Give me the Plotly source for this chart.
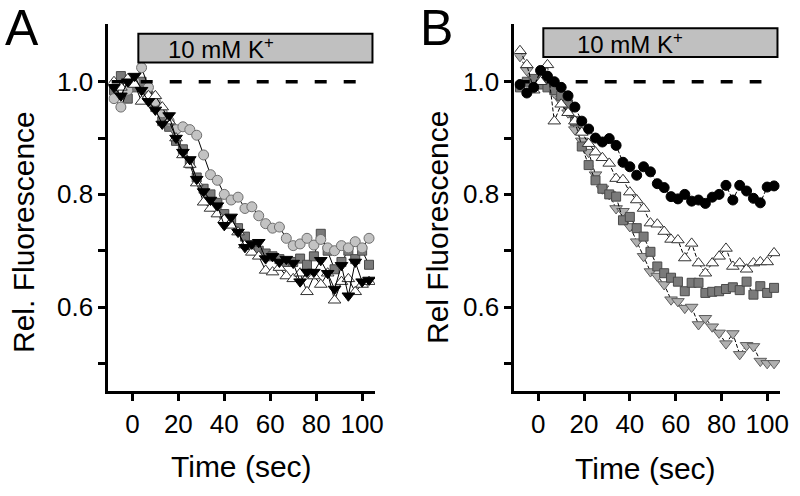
import plotly.graph_objects as go

# time points (sec), shared by all traces
time_s = [-8, -5, -2, 1, 4, 7, 10, 13, 16, 19, 22, 25, 28, 31, 34, 37, 40, 43, 46,
          49, 52, 55, 58, 61, 64, 67, 70, 73, 76, 79, 82, 85, 88, 91, 94, 97, 100, 103]

# panel A
a_squares = [0.985, 1.01, 0.97, 0.99, 1.0, 0.975, 0.955, 0.93, 0.92, 0.895, 0.88, 0.855, 0.83,
             0.81, 0.80, 0.785, 0.765, 0.755, 0.74, 0.725, 0.71, 0.70, 0.695, 0.69, 0.685, 0.68,
             0.68, 0.686, 0.675, 0.69, 0.73, 0.70, 0.667, 0.68, 0.70, 0.685, 0.70, 0.675]
a_circles = [0.97, 0.955, 0.985, 1.0, 1.025, 0.99, 0.965, 0.945, 0.93, 0.915, 0.92, 0.915, 0.905,
             0.87, 0.835, 0.825, 0.80, 0.79, 0.795, 0.775, 0.778, 0.762, 0.748, 0.74, 0.742, 0.722,
             0.709, 0.712, 0.722, 0.71, 0.72, 0.705, 0.70, 0.709, 0.705, 0.716, 0.705, 0.722]
a_open_up = [1.0, 0.99, 1.005, 0.995, 0.965, 0.975, 0.975, 0.955, 0.93, 0.90, 0.87, 0.853, 0.82,
             0.786, 0.775, 0.765, 0.755, 0.745, 0.733, 0.71, 0.697, 0.69, 0.665, 0.662, 0.67, 0.655,
             0.65, 0.66, 0.627, 0.655, 0.64, 0.66, 0.612, 0.645, 0.65, 0.627, 0.64, 0.645]
a_black_down = [0.99, 0.975, 1.0, 1.01, 0.985, 0.965, 0.95, 0.925, 0.94, 0.90, 0.875, 0.862, 0.827,
                0.805, 0.79, 0.78, 0.745, 0.76, 0.733, 0.706, 0.712, 0.715, 0.686, 0.69, 0.68, 0.685,
                0.678, 0.645, 0.662, 0.662, 0.683, 0.66, 0.632, 0.674, 0.62, 0.68, 0.645, 0.648]

# panel B
b_gray_down = [1.045, 1.02, 1.005, 1.0, 0.995, 0.98, 0.965, 0.945, 0.915, 0.895, 0.875, 0.835, 0.81,
               0.80, 0.775, 0.77, 0.743, 0.716, 0.69, 0.663, 0.655, 0.64, 0.613, 0.61, 0.598, 0.60,
               0.569, 0.58, 0.565, 0.554, 0.535, 0.553, 0.516, 0.532, 0.53, 0.504, 0.50, 0.50]
b_squares = [0.99, 1.0, 1.005, 0.995, 0.99, 0.985, 0.975, 0.96, 0.93, 0.885, 0.852, 0.825, 0.81,
             0.80, 0.796, 0.754, 0.76, 0.74, 0.725, 0.698, 0.672, 0.66, 0.652, 0.645, 0.628, 0.643,
             0.643, 0.625, 0.627, 0.628, 0.632, 0.635, 0.63, 0.645, 0.622, 0.637, 0.625, 0.634]
b_open_up = [1.055, 1.03, 0.985, 1.0, 1.03, 0.93, 0.96, 0.945, 0.93, 0.91, 0.89, 0.875, 0.865,
             0.855, 0.828, 0.826, 0.804, 0.79, 0.775, 0.749, 0.747, 0.734, 0.72, 0.719, 0.687, 0.713,
             0.678, 0.66, 0.678, 0.69, 0.704, 0.672, 0.678, 0.667, 0.678, 0.68, 0.68, 0.696]
b_black_circles = [0.995, 0.98, 0.99, 1.02, 1.01, 1.0, 0.99, 0.975, 0.955, 0.93, 0.916, 0.90, 0.893,
                   0.899, 0.887, 0.857, 0.849, 0.834, 0.849, 0.84, 0.819, 0.812, 0.796, 0.792, 0.80,
                   0.788, 0.79, 0.784, 0.795, 0.80, 0.816, 0.79, 0.816, 0.806, 0.793, 0.785, 0.813, 0.815]

y_major = [0.6, 0.8, 1.0]
y_minor = [0.5, 0.7, 0.9]
x_ticks = [0, 20, 40, 60, 80, 100]

FONT = "Liberation Sans, Arial, sans-serif"

fig = go.Figure()

def add_series(y, xa, ya, symbol, fill, edge, size, dash="solid"):
    fig.add_trace(go.Scatter(
        x=time_s, y=y, xaxis=xa, yaxis=ya, mode="lines+markers",
        line=dict(color="black", width=1, dash=dash),
        marker=dict(symbol=symbol, size=size, color=fill, line=dict(color=edge, width=1)),
        showlegend=False))

add_series(a_squares, "x", "y", "square", "#7a7a7a", "#4a4a4a", 9)
add_series(a_circles, "x", "y", "circle", "#c3c3c3", "#6e6e6e", 10)
add_series(a_open_up, "x", "y", "triangle-up", "white", "#333333", 11)
add_series(a_black_down, "x", "y", "triangle-down", "black", "black", 11)

add_series(b_gray_down, "x2", "y2", "triangle-down", "#b0b0b0", "#5e5e5e", 11, "4px,2px")
add_series(b_squares, "x2", "y2", "square", "#7a7a7a", "#4a4a4a", 9, "4px,2px")
add_series(b_open_up, "x2", "y2", "triangle-up", "white", "#333333", 11, "4px,2px")
add_series(b_black_circles, "x2", "y2", "circle", "black", "black", 10, "4px,2px")

x_common = dict(range=[-10.4, 105.6], showline=True, linewidth=3, linecolor="black",
                ticks="outside", ticklen=7, tickwidth=2.5, tickcolor="black",
                tickvals=x_ticks, showgrid=False, zeroline=False, automargin=False,
                tickfont=dict(size=26, color="black", family=FONT))
y_common = dict(range=[0.45, 1.1025], showline=True, linewidth=3, linecolor="black",
                ticks="outside", ticklen=7, tickwidth=2.5, tickcolor="black",
                tickvals=y_major, tickformat=".1f", showgrid=False, zeroline=False,
                minor=dict(tickvals=y_minor, ticks="outside", ticklen=7, tickwidth=2.5,
                           tickcolor="black", showgrid=False),
                automargin=False, domain=[0.2107, 0.9516],
                tickfont=dict(size=26, color="black", family=FONT))

fig.update_layout(
    width=800, height=496, margin=dict(l=0, r=0, t=0, b=0),
    paper_bgcolor="white", plot_bgcolor="white",
    xaxis=dict(x_common, domain=[0.1356, 0.46875], anchor="y"),
    yaxis=dict(y_common, anchor="x"),
    xaxis2=dict(x_common, domain=[0.6431, 0.975], anchor="y2"),
    yaxis2=dict(y_common, anchor="x2"),
)

# stimulus bars and baseline
for xr, yr, bx0, by0, by1, tx in [("x", "y", 2.6, 1.034, 1.085, 14.5), ("x2", "y2", 2.2, 1.044, 1.095, 16)]:
    fig.add_shape(type="rect", xref=xr, yref=yr, x0=bx0, x1=104.5, y0=by0, y1=by1,
                  fillcolor="#c0c0c0", line=dict(color="black", width=2))
    fig.add_shape(type="line", xref=xr, yref=yr, x0=-9, x1=97.5, y0=1.0, y1=1.0,
                  line=dict(color="black", width=3.5, dash="12px,17px"))
    fig.add_annotation(xref=xr, yref=yr, x=tx, y=(by0 + by1) / 2, text="10 mM K<sup>+</sup>",
                       showarrow=False, xanchor="left", yanchor="middle",
                       font=dict(size=24, color="black", family=FONT))

labels = [
    (22 / 800, 1 - 28 / 496, "A", 50, 0),
    (436 / 800, 1 - 28 / 496, "B", 50, 0),
    (23 / 800, 1 - 232 / 496, "Rel. Fluorescence", 30, -90),
    (437 / 800, 1 - 228 / 496, "Rel Fluorescence", 30, -90),
    (241 / 800, 1 - 466 / 496, "Time (sec)", 30, 0),
    (645 / 800, 1 - 468 / 496, "Time (sec)", 30, 0),
]
for x, y, t, s, a in labels:
    fig.add_annotation(xref="paper", yref="paper", x=x, y=y, text=t, showarrow=False,
                       xanchor="center", yanchor="middle", textangle=a,
                       font=dict(size=s, color="black", family=FONT))

fig.write_html("out.html", config={"displayModeBar": False},
               post_script="document.body.style.margin='0px';")
